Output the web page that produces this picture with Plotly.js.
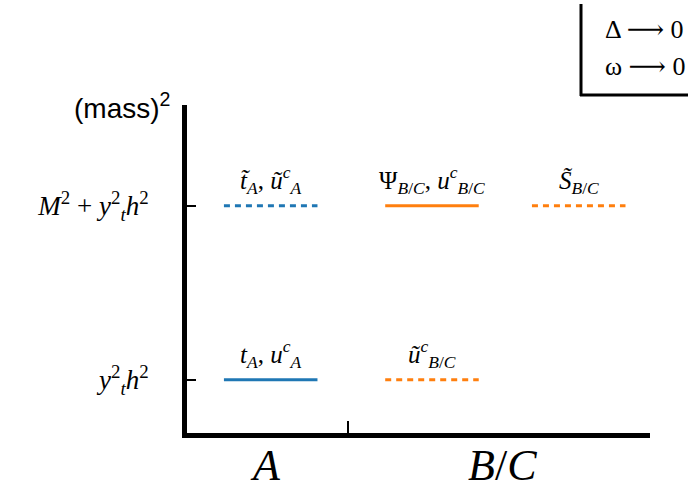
<!DOCTYPE html>
<html><head><meta charset="utf-8">
<script src="https://cdn.plot.ly/plotly-3.0.1.min.js"></script>
<style>body{margin:0;background:#fff}#c{width:688px;height:495px}</style>
</head><body><div id="c"></div>
<script>
// Data
const groupNames = ['<i>A</i>', '<i>B</i>/<i>C</i>'];
const groupPos = [-0.03, 1.44];
const dividerPos = [0.48];
const levelVals = [1, 2];
const levelTickText = ['<i>y</i><sup>2</sup><sub><i>t</i></sub><i>h</i><sup>2</sup>',
  '<i>M</i><sup>2</sup> + <i>y</i><sup>2</sup><sub><i>t</i></sub><i>h</i><sup>2</sup>'];
const stateLabels = ['<i>t</i><sub><i>A</i></sub>, <i>u</i><sup><i>c</i></sup><sub><i>A</i></sub>',
  '<i>t\u0303</i><sub><i>A</i></sub>, <i>u\u0303</i><sup><i>c</i></sup><sub><i>A</i></sub>',
  '\u03A8<sub><i>B</i>/<i>C</i></sub>, <i>u</i><sup><i>c</i></sup><sub><i>B</i>/<i>C</i></sub>',
  '<i>u\u0303</i><sup><i>c</i></sup><sub><i>B</i>/<i>C</i></sub>',
  '<i>S\u0303</i><sub><i>B</i>/<i>C</i></sub>'];
const stateCenter = [0, 0, 1, 1, 1.91];
const stateLevel = [1, 2, 2, 1, 2];
const stateKind = ['fermion-A', 'scalar-A', 'fermion-BC', 'scalar-BC', 'scalar-BC'];
const limitTexts = ['\u0394 \u27F6 0', '\u03C9 \u27F6 0'];

const halfWidth = 0.29;
const styles = {
  'fermion-A': {color: '#1f77b4', dash: 'solid'},
  'scalar-A': {color: '#1f77b4', dash: '6px,5px'},
  'fermion-BC': {color: '#ff7f0e', dash: 'solid'},
  'scalar-BC': {color: '#ff7f0e', dash: '6px,5px'}
};
const serif = 'Liberation Serif, DejaVu Serif, serif';

const traces = stateCenter.map((c, i) => ({
  x: [c - halfWidth, c + halfWidth],
  y: [stateLevel[i], stateLevel[i]],
  mode: 'lines', type: 'scatter', hoverinfo: 'skip',
  line: {color: styles[stateKind[i]].color, dash: styles[stateKind[i]].dash, width: 3}
}));

const annotations = stateCenter.map((c, i) => ({
  x: c, y: stateLevel[i], xref: 'x', yref: 'y', text: stateLabels[i],
  showarrow: false, yanchor: 'bottom', yshift: 6,
  font: {family: serif, size: 25, color: '#000'}
}));
groupNames.forEach((g, i) => annotations.push({
  x: groupPos[i], y: 0, xref: 'x', yref: 'paper', text: g, showarrow: false,
  yanchor: 'top', yshift: -6, font: {family: serif, size: 44, color: '#000'}
}));

const pw = 688 - 187 - 38, ph = 495 - 105 - 62;
const px = v => (v - 187) / pw, py = v => (495 - 62 - v) / ph;

annotations.push({
  x: px(172), y: py(86), xref: 'paper', yref: 'paper', xanchor: 'right', text: '(mass)<sup>2</sup>', showarrow: false,
  font: {family: 'Liberation Sans, Arial, sans-serif', size: 28, color: '#000'}
});
limitTexts.forEach((t, i) => annotations.push({
  x: px(603), y: py(i === 0 ? 29 : 67), xref: 'paper', yref: 'paper', text: t, showarrow: false,
  xanchor: 'left', yanchor: 'middle', font: {family: serif, size: 26, color: '#000'}
}));

const layout = {
  width: 688, height: 495,
  margin: {l: 187, r: 38, t: 105, b: 62},
  paper_bgcolor: '#fff', plot_bgcolor: '#fff',
  showlegend: false,
  xaxis: {
    range: [-0.519, 2.352], showgrid: false, zeroline: false,
    showline: true, linecolor: '#000', linewidth: 5,
    tickvals: dividerPos, ticktext: [''], ticks: 'inside', ticklen: 12, tickwidth: 2, tickcolor: '#000'
  },
  yaxis: {
    range: [0.693, 2.58], showgrid: false, zeroline: false,
    showline: true, linecolor: '#000', linewidth: 5,
    tickvals: levelVals, ticktext: levelTickText, ticks: 'inside', ticklen: 9, tickwidth: 2, tickcolor: '#000',
    ticklabelstandoff: 28,
    tickfont: {family: serif, size: 27, color: '#000'}
  },
  shapes: [
    {type: 'line', xref: 'paper', yref: 'paper', x0: px(581), x1: px(581), y0: py(4), y1: py(96), line: {color: '#000', width: 3}},
    {type: 'line', xref: 'paper', yref: 'paper', x0: px(580), x1: px(690), y0: py(95), y1: py(95), line: {color: '#000', width: 3}}
  ],
  annotations: annotations
};

Plotly.newPlot('c', traces, layout, {displayModeBar: false, staticPlot: true});
</script></body></html>
